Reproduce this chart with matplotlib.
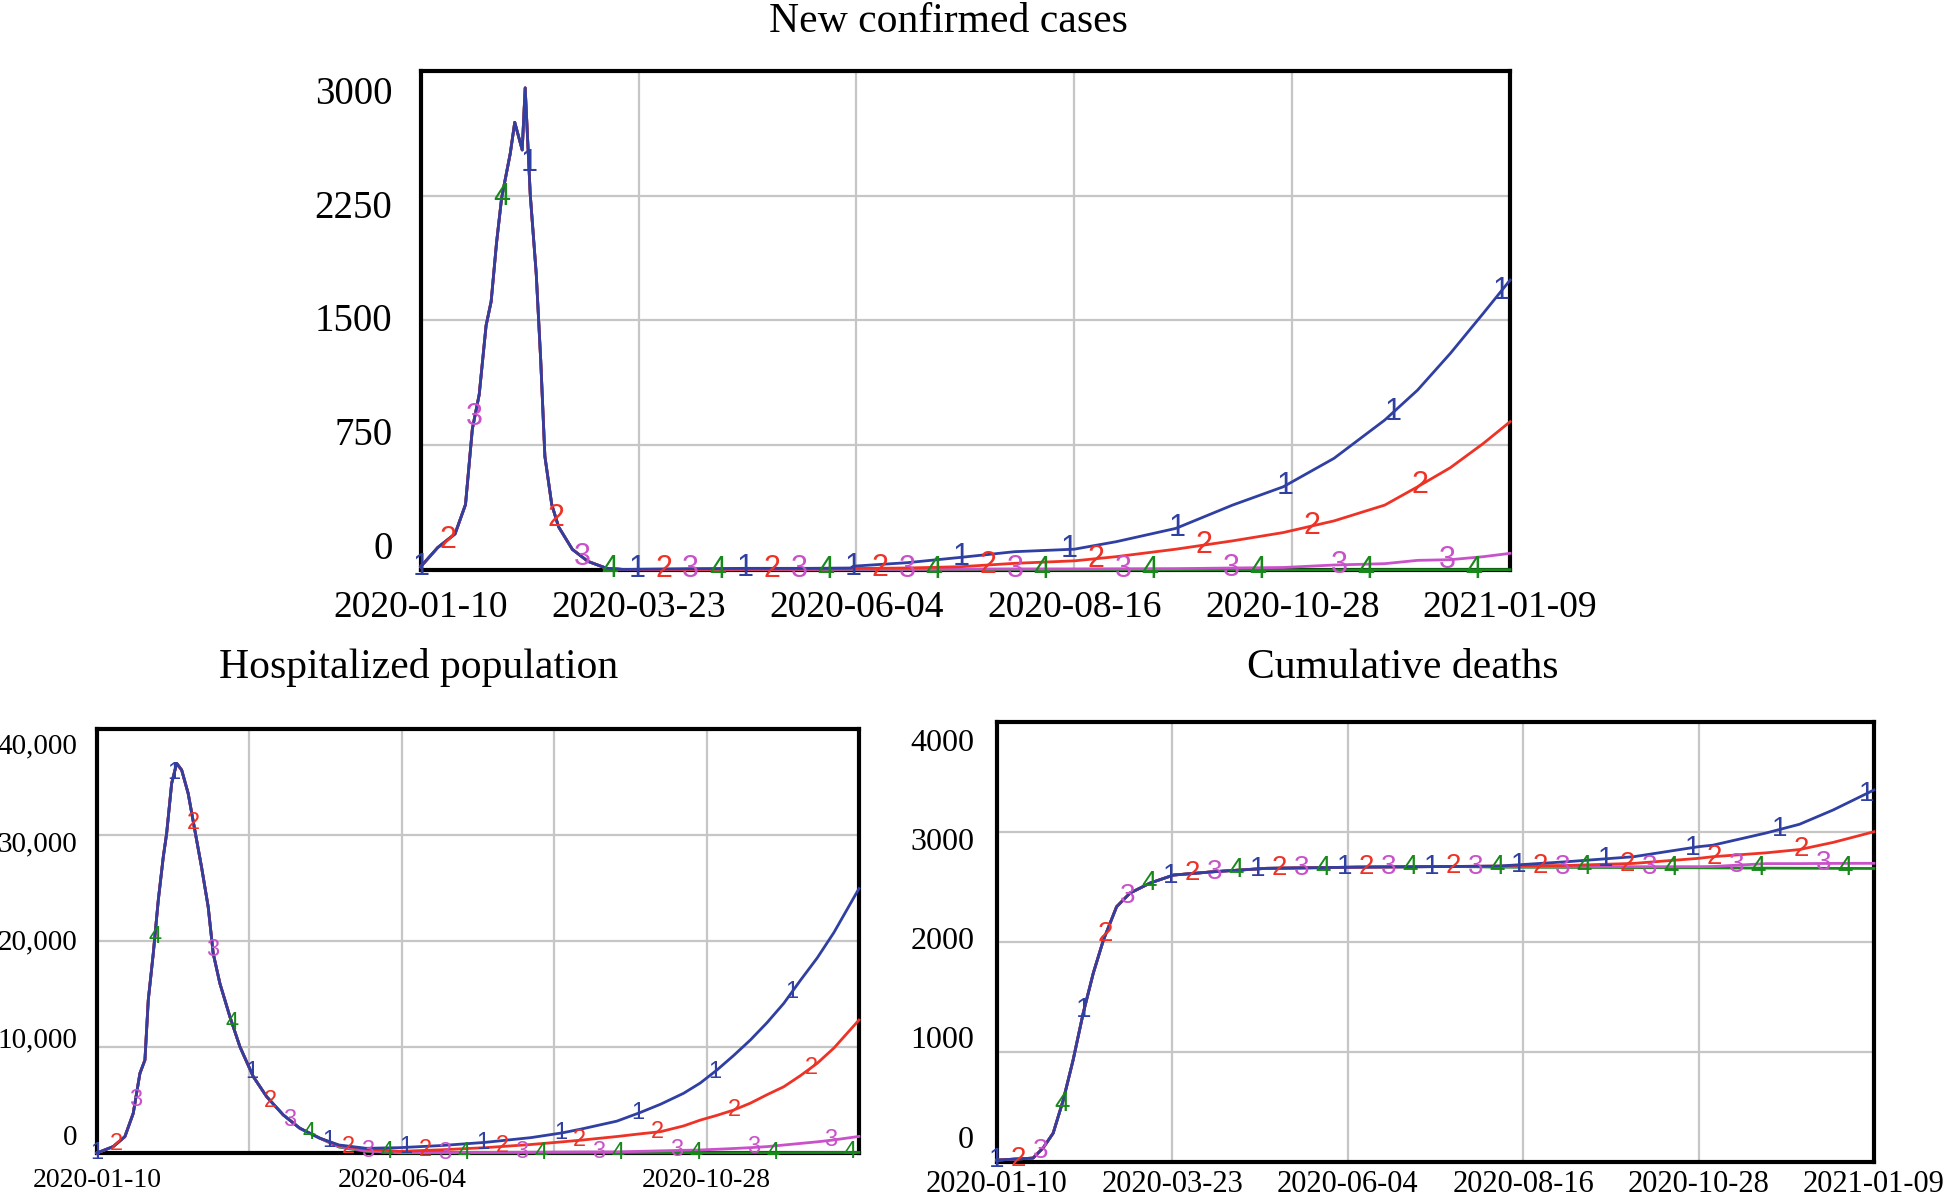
import numpy as np
import matplotlib.pyplot as plt

plt.rcParams['font.family'] = ['Liberation Serif', 'DejaVu Serif']

# x axis: days after 2020-01-10 (365 days shown)
grid_days = [0, 73, 146, 219, 292, 365]
date_labels = ["2020-01-10", "2020-03-23", "2020-06-04", "2020-08-16", "2020-10-28", "2021-01-09"]
colors = ["#2f3fa2", "#ee3326", "#c951c9", "#17891a"]

# ---- New confirmed cases ----
cases_days = [0, 5.7, 11.5, 15, 17.3, 19.6, 21.9, 23.6, 25.4, 27.1, 30, 31.5, 34, 35, 36.7,
              38.7, 40.2, 41.6, 43.9, 46.2, 50.8, 56, 62.3, 68,
              75, 90, 110, 130, 144, 145, 163, 181, 199, 219, 233, 253, 272, 289, 306, 323,
              334, 345, 356, 365]
cases_early = [20, 135, 217, 393, 848, 1055, 1469, 1614, 1966, 2235, 2503, 2690, 2524, 2897, 2255,
               1780, 1262, 683, 393, 259, 124, 52, 10, 3]
cases_1 = cases_early + [5, 8, 10, 10, 12, 23, 44, 76, 110, 125, 170, 250, 390, 500, 671, 901,
                         1081, 1302, 1542, 1742]
cases_2 = cases_early + [3, 4, 5, 6, 8, 9, 12, 20, 40, 55, 80, 125, 175, 225, 295, 390,
                         500, 615, 760, 891]
cases_3 = cases_early + [2, 3, 3, 3, 4, 4, 4, 5, 6, 6, 7, 8, 12, 15, 30, 38,
                         58, 62, 80, 100]
cases_4 = cases_early + [1, 1, 1, 1, 1, 1, 1, 1, 1, 1, 1, 1, 1, 1, 1, 2,
                         2, 2, 2, 2]
cases_yticks = [0, 750, 1500, 2250, 3000]
cases_ylabels = ["0", "750", "1500", "2250", "3000"]

# ---- Hospitalized population ----
hosp_days = [0, 7.8, 13.4, 17.4, 20.6, 23, 24.6, 27, 29.4, 31.8, 33.4, 35.8, 38.2, 40.6, 43.7,
             46.9, 50.1, 53.3, 55.7, 58.9, 63.7, 68.5, 74.9, 81.3, 89.3, 97.2, 106.8,
             116, 129, 145, 165, 186, 208, 223, 233, 249, 260, 270, 281, 289, 297, 305, 313,
             321, 329, 337, 345, 353, 365]
hosp_early = [0, 600, 1540, 3740, 7510, 8770, 14430, 18830, 23860, 27950, 30150, 34870, 36760,
              36130, 33930, 30450, 26990, 23220, 18830, 16000, 12850, 10020, 7200, 5310, 3580,
              2330, 1390]
hosp_1 = hosp_early + [750, 440, 500, 700, 1000, 1450, 1900, 2300, 3000, 3800, 4600, 5630, 6600,
                       7830, 9200, 10660, 12300, 14120, 16300, 18400, 20800, 24940]
hosp_2 = hosp_early + [700, 380, 150, 300, 500, 800, 1050, 1230, 1550, 1800, 2010, 2550, 3100,
                       3550, 4050, 4700, 5500, 6250, 7300, 8460, 9900, 12540]
hosp_3 = hosp_early + [600, 200, 30, 40, 50, 70, 85, 95, 100, 150, 200, 250, 280,
                       350, 420, 500, 600, 750, 900, 1050, 1230, 1560]
hosp_4 = hosp_early + [550, 150, 10, 10, 10, 10, 10, 10, 10, 15, 15, 20, 20,
                       25, 25, 30, 30, 35, 40, 40, 45, 50]
hosp_yticks = [0, 10000, 20000, 30000, 40000]
hosp_ylabels = ["0", "10,000", "20,000", "30,000", "40,000"]

# ---- Cumulative deaths ----
death_days = [0, 15, 19.2, 23.4, 27.6, 31.7, 35.9, 40.1, 44.3, 49.8, 55.4, 63.7, 73.5, 90, 112,
              150, 190, 209, 237, 265, 292, 298, 320, 334, 348, 365]
death_early = [15, 33, 125, 260, 561, 925, 1352, 1716, 2016, 2320, 2444, 2535, 2608, 2638, 2669,
               2680, 2686]
death_1 = death_early + [2690, 2729, 2775, 2866, 2880, 2990, 3070, 3200, 3382]
death_2 = death_early + [2690, 2695, 2714, 2760, 2775, 2810, 2840, 2905, 3002]
death_3 = death_early + [2684, 2684, 2684, 2684, 2686, 2712, 2712, 2714, 2715]
death_4 = death_early + [2680, 2678, 2676, 2674, 2673, 2671, 2670, 2669, 2668]
death_yticks = [0, 1000, 2000, 3000, 4000]
death_ylabels = ["0", "1000", "2000", "3000", "4000"]


def draw_panel(ax, days, series, ymax, yticks, ylabels, xlabels, lab_frac, step,
               tick_size, digit_size, xpad):
    for k, vals in enumerate(series):
        ax.plot(days, vals, color=colors[k], lw=2.0, zorder=6 - k, clip_on=False)
        # numbered markers, staggered per series
        for d in np.arange(k * step / 4, 365.5, step):
            ax.text(d, np.interp(d, days, vals), str(k + 1), color=colors[k],
                    fontsize=digit_size, family=['Liberation Sans', 'DejaVu Sans'],
                    ha='center', va='center', zorder=10 - k, clip_on=False)
    ax.set_xlim(0, 365)
    ax.set_ylim(0, ymax)
    ax.set_xticks(grid_days)
    ax.set_xticklabels(xlabels, fontsize=tick_size)
    ax.set_yticks(yticks)
    ax.set_yticklabels([])
    f0, f1 = lab_frac
    for v, lab in zip(yticks, ylabels):
        ax.text(-0.026, f0 + v / ymax * (f1 - f0), lab, transform=ax.transAxes,
                ha='right', va='center', fontsize=tick_size + 1)
    ax.tick_params(length=0, pad=xpad)
    ax.grid(True, color='#c6c6c6', lw=1.6)
    ax.set_axisbelow(True)
    for s in ax.spines.values():
        s.set_linewidth(3)
        s.set_color('black')


fig = plt.figure(figsize=(19.46, 12.01), dpi=100)

ax1 = fig.add_axes([0.2162, 0.5254, 0.5598, 0.4157])
draw_panel(ax1, cases_days, [cases_1, cases_2, cases_3, cases_4], 3000,
           cases_yticks, cases_ylabels, date_labels, (0.0405, 0.953), 36.2, 27, 22, 15)

ax2 = fig.add_axes([0.0498, 0.0400, 0.3916, 0.3530])
hosp_xlabels = [lab if i % 2 == 0 else "" for i, lab in enumerate(date_labels)]
draw_panel(ax2, hosp_days, [hosp_1, hosp_2, hosp_3, hosp_4], 40000,
           hosp_yticks, hosp_ylabels, hosp_xlabels, (0.035, 0.958), 37.0, 20, 17, 11)

ax3 = fig.add_axes([0.5123, 0.0327, 0.4507, 0.3661])
draw_panel(ax3, death_days, [death_1, death_2, death_3, death_4], 4000,
           death_yticks, death_ylabels, date_labels, (0.049, 0.952), 36.2, 22, 20, 6)

fig.text(0.4875, 0.9734, "New confirmed cases", ha='center', va='baseline', fontsize=30)
fig.text(0.2153, 0.4358, "Hospitalized population", ha='center', va='baseline', fontsize=30)
fig.text(0.7210, 0.4358, "Cumulative deaths", ha='center', va='baseline', fontsize=30)

fig.savefig("out.png", dpi=100)
